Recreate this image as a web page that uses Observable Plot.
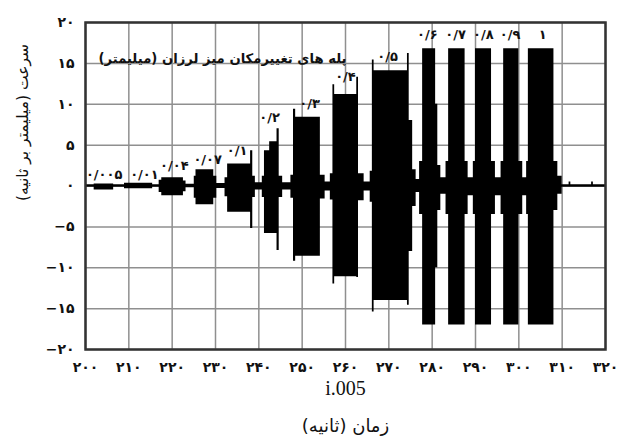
<!DOCTYPE html>
<html>
<head>
<meta charset="utf-8">
<script src="https://cdn.jsdelivr.net/npm/d3@7"></script>
<script src="https://cdn.jsdelivr.net/npm/@observablehq/plot@0.6"></script>
<style>
html, body { margin: 0; padding: 0; background: #fff; }
</style>
</head>
<body>
<div id="chart"></div>
<script>
// Envelope of the velocity record (time in s, upper / lower velocity in mm/s)
const envT  = [200, 202, 206.5, 209, 215.5, 217, 217.6, 222.6, 223.2, 225.1, 225.5, 229.6, 230.3, 232.2, 232.8, 238.1, 238.6, 239.2,
               240.8, 241.3, 242.5, 244.2, 244.7, 245.5, 247.4, 248.0, 248.5, 254.2, 255.3, 256.5, 257.1, 257.5, 262.6, 263.0,
               264.3, 265.7, 266.2, 266.6, 274.3, 274.7, 275.5, 276.3, 277.1, 277.8, 280.8, 281.3, 282.0, 283.2, 283.8, 287.6,
               288.3, 289.5, 290.0, 293.7, 294.6, 295.9, 296.5, 300.0, 300.9, 301.8, 302.2, 308.1, 309.0, 310.0, 311.6, 312.0,
               316.8, 317.2, 320];
const envHi = [0.15, 0.25, 0.15, 0.35, 0.15, 0.7, 1.0, 0.6, 0.2, 1.2, 2.0, 1.2, 0.3, 1.0, 2.7, 4.3, 1.2, 0.4,
               1.2, 4.3, 5.4, 7.0, 1.2, 0.4, 1.3, 9.4, 8.4, 1.3, 0.5, 1.5, 12.4, 11.2, 13.3, 1.5,
               0.5, 1.8, 15.4, 14.1, 16.2, 8.0, 2.0, 0.8, 3.0, 16.8, 10.0, 2.5, 1.0, 3.0, 16.8, 3.0,
               1.0, 3.0, 16.8, 3.0, 1.0, 3.0, 16.8, 3.0, 1.0, 3.0, 16.8, 3.0, 1.2, 0.15, 0.5, 0.15,
               0.5, 0.15, 0.15];
const envLo = [-0.15, -0.5, -0.15, -0.35, -0.15, -0.8, -1.2, -0.7, -0.2, -1.5, -2.3, -1.5, -0.3, -1.3, -3.2, -5.2, -1.4, -0.5,
               -1.4, -5.8, -5.8, -7.9, -1.4, -0.5, -1.5, -9.2, -8.6, -1.6, -0.6, -1.7, -12.0, -11.1, -11.2, -1.8,
               -0.6, -2.0, -15.4, -14.0, -14.6, -8.0, -2.5, -0.8, -3.5, -17.0, -10.0, -3.0, -1.0, -3.5, -17.0, -3.5,
               -1.2, -3.5, -17.0, -3.5, -1.2, -3.5, -17.0, -3.5, -1.2, -3.5, -17.0, -3.0, -1.0, -0.15, -0.15, -0.15,
               -0.15, -0.15, -0.15];

// Displacement step labels (mm) and their positions
const stepLabels = ["۰/۰۰۵", "۰/۰۱", "۰/۰۴", "۰/۰۷", "۰/۱", "۰/۲", "۰/۳", "۰/۴", "۰/۵", "۰/۶", "۰/۷", "۰/۸", "۰/۹", "۱"];
const stepX = [204.3, 213.6, 220.5, 228.2, 235.0, 242.5, 251.7, 260.0, 269.7, 278.9, 285.4, 291.8, 298.0, 305.5];
const stepY = [1.4, 1.4, 2.5, 3.2, 4.3, 8.4, 10.0, 13.3, 15.8, 18.5, 18.5, 18.5, 18.5, 18.5];

// Axis ticks
const xTicks = [200, 210, 220, 230, 240, 250, 260, 270, 280, 290, 300, 310, 320];
const yTicks = [-20, -15, -10, -5, 0, 5, 10, 15, 20];

// Texts
const titleText = "\u200Fپله های تغییرمکان میز لرزان (میلیمتر)\u200F";
const yLabel = "\u200Fسرعت (میلیمتر بر ثانیه)\u200F";
const xCode = "i.005";
const xLabel = "\u200Fزمان (ثانیه)\u200F";

const fa = n => String(n).replace(/\d/g, d => "۰۱۲۳۴۵۶۷۸۹"[d]).replace("-", "\u2212");

const env = envT.map((t, i) => ({t, hi: envHi[i], lo: envLo[i]}));
const steps = stepLabels.map((s, i) => ({s, x: stepX[i], y: stepY[i]}));

const chart = Plot.plot({
  width: 621,
  height: 439,
  marginLeft: 85,
  marginRight: 16,
  marginTop: 22,
  marginBottom: 90,
  style: {fontFamily: "DejaVu Sans", background: "#fff"},
  x: {domain: [200, 320]},
  y: {domain: [-20, 20]},
  marks: [
    Plot.gridX(xTicks, {stroke: "#8f8f8f", strokeOpacity: 1, strokeWidth: 1.5}),
    Plot.gridY(yTicks, {stroke: "#8f8f8f", strokeOpacity: 1, strokeWidth: 1.5}),
    Plot.areaY(env, {x: "t", y1: "lo", y2: "hi", curve: "step-after", fill: "#000"}),
    Plot.frame({stroke: "#333", strokeWidth: 2.5}),
    Plot.axisX(xTicks, {tickSize: 0, tickPadding: 13, tickFormat: fa, label: null, fontSize: 14, fontWeight: "bold", fill: "#111"}),
    Plot.axisY(yTicks, {tickSize: 0, tickPadding: 11, tickFormat: fa, label: null, fontSize: 14, fontWeight: "bold", fill: "#111"}),
    Plot.text(steps, {x: "x", y: "y", text: "s", fontSize: 13, fontWeight: "bold", fill: "#111"}),
    Plot.text([titleText], {frameAnchor: "top-left", dx: 137, dy: 31, textAnchor: "middle", fontSize: 13.2, fontWeight: "bold", fill: "#111"}),
    Plot.text([yLabel], {frameAnchor: "left", dx: -62, dy: 15, rotate: -90, fontSize: 15.5, fill: "#111"}),
    Plot.text([xCode], {frameAnchor: "bottom", dy: 45, fontSize: 20, fontFamily: "Liberation Serif", fill: "#111"}),
    Plot.text([xLabel], {frameAnchor: "bottom", dy: 82, fontSize: 18, fill: "#111"})
  ]
});
document.getElementById("chart").appendChild(chart);
</script>
</body>
</html>
